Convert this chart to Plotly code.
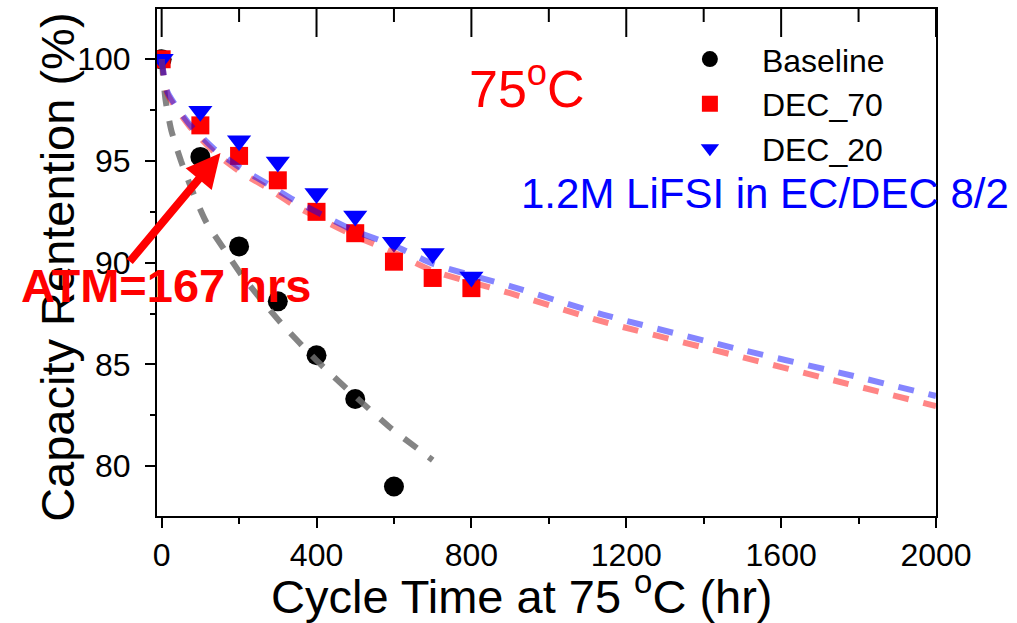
import plotly.graph_objects as go

FONT = "Arial, 'Liberation Sans', sans-serif"

# Measured capacity retention (%) vs. cycle time at 75 °C (hr)
hours = [0, 100, 200, 300, 400, 500, 600, 700, 800]
baseline = [100.0, 95.2, 90.8, 88.1, 85.45, 83.3, 79.0]
dec_70 = [100.0, 96.75, 95.25, 94.05, 92.5, 91.45, 90.05, 89.25, 88.75]
dec_20 = [100.0, 97.45, 96.0, 94.95, 93.4, 92.3, 91.0, 90.45, 89.3]

# Fitted trend lines (dashed)
fit_base_x = [0, 10, 25, 50, 80, 115, 160, 210, 310, 400, 490, 590, 700]
fit_base_y = [100.0, 98.0, 96.5, 95.0, 93.5, 92.0, 90.7, 89.3, 87.0, 85.2, 83.6, 81.9, 80.3]
fit_x = [0, 15, 70, 135, 200, 275, 340, 410, 500, 600, 700, 900, 1140, 1480, 1750, 2000]
fit_20_y = [100.0, 98.4, 96.85, 95.6, 94.7, 93.85, 93.1, 92.4, 91.55, 90.85, 89.95,
            88.85, 87.45, 85.8, 84.6, 83.45]
fit_70_y = [100.0, 98.3, 96.75, 95.45, 94.5, 93.65, 92.85, 92.15, 91.3, 90.5, 89.6,
            88.5, 87.1, 85.45, 84.15, 82.95]

x_ticks = [0, 400, 800, 1200, 1600, 2000]
x_minor_ticks = [200, 600, 1000, 1400, 1800]
y_ticks = [80, 85, 90, 95, 100]

fig = go.Figure()

fig.add_trace(go.Scatter(
    x=hours[:len(baseline)], y=baseline, mode="markers", name="Baseline",
    marker=dict(symbol="circle", size=20, color="black"),
))
fig.add_trace(go.Scatter(
    x=hours[:len(dec_70)], y=dec_70, mode="markers", name="DEC_70",
    marker=dict(symbol="square", size=18, color="#ff0000"),
))
fig.add_trace(go.Scatter(
    x=hours[:len(dec_20)], y=dec_20, mode="markers", name="DEC_20",
    marker=dict(symbol="triangle-down", size=21, color="#0000ff"),
))

dash_style = "16px,15px"
fig.add_trace(go.Scatter(
    x=fit_base_x, y=fit_base_y, mode="lines", showlegend=False, hoverinfo="skip",
    line=dict(color="rgba(110,110,110,0.85)", width=6, dash=dash_style, shape="spline", smoothing=0.6),
))
fig.add_trace(go.Scatter(
    x=fit_x, y=fit_70_y, mode="lines", showlegend=False, hoverinfo="skip",
    line=dict(color="rgba(255,0,0,0.48)", width=6, dash=dash_style, shape="spline", smoothing=0.6),
))
fig.add_trace(go.Scatter(
    x=fit_x, y=fit_20_y, mode="lines", showlegend=False, hoverinfo="skip",
    line=dict(color="rgba(0,0,255,0.48)", width=6, dash=dash_style, shape="spline", smoothing=0.6),
))

x_range = [-12, 2000]
y_range = [77.55, 102.47]

fig.update_layout(
    width=1017, height=623,
    margin=dict(l=157, r=81, t=7, b=107),
    paper_bgcolor="white", plot_bgcolor="white",
    font=dict(family=FONT, color="black", size=32),
    showlegend=True,
    legend=dict(
        x=0.643, y=0.955, xanchor="left", yanchor="top",
        bgcolor="rgba(0,0,0,0)", font=dict(size=32, family=FONT),
        itemwidth=94, tracegroupgap=0,
    ),
    xaxis=dict(
        range=x_range, tickvals=x_ticks, ticks="outside", ticklen=10, tickwidth=2,
        tickcolor="black", showline=True, linewidth=2, linecolor="black", mirror=True,
        showgrid=False, zeroline=False, tickfont=dict(size=32, family=FONT),
        minor=dict(ticks="outside", ticklen=6, tickwidth=2, dtick=200, tick0=0, showgrid=False),
    ),
    yaxis=dict(
        range=y_range, tickvals=y_ticks, ticks="outside", ticklen=10, tickwidth=2,
        tickcolor="black", showline=True, linewidth=2, linecolor="black", mirror=True,
        showgrid=False, zeroline=False, tickfont=dict(size=32, family=FONT),
        ticklabelstandoff=8,
        minor=dict(ticks="outside", ticklen=5, tickwidth=2, dtick=2.5, tick0=0, showgrid=False),
    ),
)

# inward-pointing ticks along the top frame edge (long at major, short at minor positions)
for vals, length in ((x_ticks, 28), (x_minor_ticks, 13)):
    for v in vals:
        fig.add_shape(
            type="line", xref="x", yref="paper", ysizemode="pixel", yanchor=1,
            x0=v, x1=v, y0=0, y1=-length,
            line=dict(color="black", width=2), layer="above",
        )

annotations = [
    # axis titles
    dict(text="Cycle Time at 75 <sup>o</sup>C (hr)", x=0.468, y=-0.152, xref="paper", yref="paper",
         xanchor="center", yanchor="middle", showarrow=False, font=dict(size=47, family=FONT)),
    dict(text="Capacity Rentention (%)", x=-0.128, y=0.49, xref="paper", yref="paper",
         xanchor="center", yanchor="middle", textangle=-90, showarrow=False,
         font=dict(size=47, family=FONT)),
    # labels inside the plot
    dict(text="75<sup>o</sup>C", x=0.475, y=0.851, xref="paper", yref="paper",
         xanchor="center", yanchor="middle", showarrow=False,
         font=dict(size=52, family=FONT, color="#ff0000")),
    dict(text="1.2M LiFSI in EC/DEC 8/2", x=0.78, y=0.637, xref="paper", yref="paper",
         xanchor="center", yanchor="middle", showarrow=False,
         font=dict(size=42, family=FONT, color="#0000ff")),
    dict(text="<b>ATM=167 hrs</b>", x=0.012, y=0.455, xref="paper", yref="paper",
         xanchor="center", yanchor="middle", showarrow=False,
         font=dict(size=47, family=FONT, color="#ff0000")),
    # arrow pointing at the 167 hr mark
    dict(text="", x=152, y=95.39, xref="x", yref="y", ax=-92, ay=110,
         showarrow=True, arrowhead=2, arrowsize=0.85, arrowwidth=8, arrowcolor="#ff0000",
         standoff=0),
]
fig.update_layout(annotations=annotations)

fig.write_html("out.html")
